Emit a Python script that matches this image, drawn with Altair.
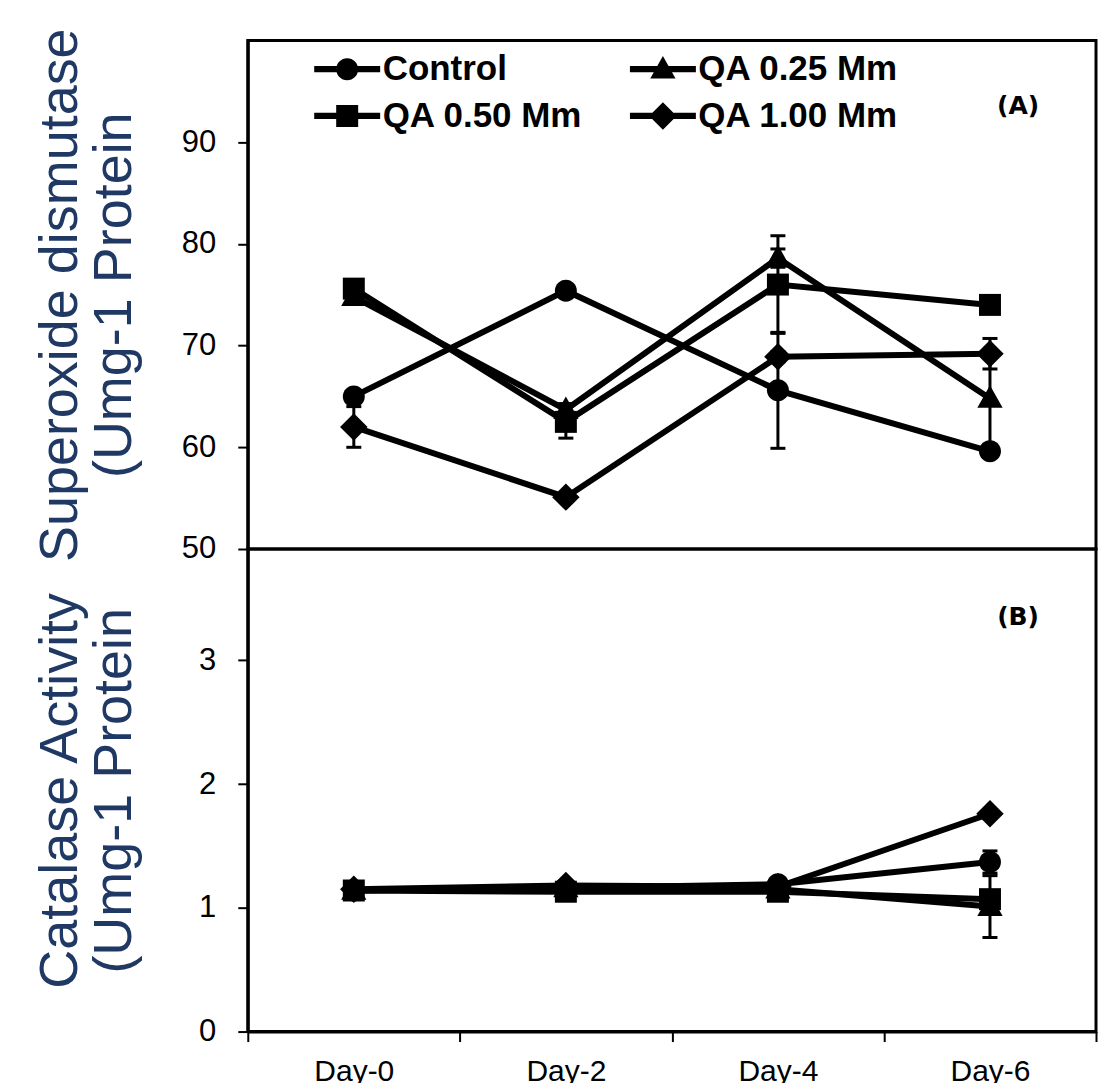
import altair as alt
import pandas as pd

days = ["Day-0", "Day-2", "Day-4", "Day-6"]
series = ["Control", "QA 0.25 Mm", "QA 0.50 Mm", "QA 1.00 Mm"]

# Panel A: Superoxide dismutase
sod_control = [65.0, 75.4, 65.6, 59.6]
sod_qa025 = [74.8, 63.7, 78.6, 64.8]
sod_qa050 = [75.6, 62.5, 76.0, 74.0]
sod_qa100 = [62.0, 55.1, 68.9, 69.2]
sod_err_control = [0.4, 0.4, 5.7, 0.4]
sod_err_qa025 = [0.4, 0.6, 0.9, 4.5]
sod_err_qa050 = [0.4, 1.6, 4.8, 0.4]
sod_err_qa100 = [2.0, 0.4, 0.5, 1.5]

# Panel B: Catalase activity
cat_control = [1.14, 1.16, 1.19, 1.37]
cat_qa025 = [1.14, 1.16, 1.15, 1.01]
cat_qa050 = [1.14, 1.13, 1.13, 1.07]
cat_qa100 = [1.15, 1.18, 1.17, 1.76]
cat_err_control = [0.02, 0.02, 0.03, 0.09]
cat_err_qa025 = [0.02, 0.02, 0.02, 0.25]
cat_err_qa050 = [0.02, 0.02, 0.02, 0.05]
cat_err_qa100 = [0.02, 0.02, 0.02, 0.02]


def build(vals, errs):
    rows = []
    for s, v, e in zip(series, vals, errs):
        for d, vv, ee in zip(days, v, e):
            rows.append({"day": d, "series": s, "value": vv, "lo": vv - ee, "hi": vv + ee})
    return pd.DataFrame(rows)


sod_df = build([sod_control, sod_qa025, sod_qa050, sod_qa100],
               [sod_err_control, sod_err_qa025, sod_err_qa050, sod_err_qa100])
cat_df = build([cat_control, cat_qa025, cat_qa050, cat_qa100],
               [cat_err_control, cat_err_qa025, cat_err_qa050, cat_err_qa100])

CIRCLE = "M1,0A1,1 0 1,1 -1,0A1,1 0 1,1 1,0Z"
TRI = "M0,-1.2L1.15,0.85L-1.15,0.85Z"
SQUARE = "M-1,-1H1V1H-1Z"
DIAMOND = "M0,-1.25L1.25,0L0,1.25L-1.25,0Z"
LINE = "M-3,-0.28H3V0.28H-3Z"
marker_paths = [CIRCLE, TRI, SQUARE, DIAMOND]
legend_paths = [LINE + p for p in marker_paths]

FONT = "Liberation Sans"
NAVY = "#1f3864"
W = 849


def panel(df, ydomain, yvalues, ytitle, label, show_x, show_legend, h, label_y):
    if show_x:
        xaxis = alt.Axis(title=None, tickBand="extent", labelAngle=0, labelFontSize=30,
                         labelFont=FONT, labelColor="black", tickSize=10, tickWidth=2,
                         tickColor="black", domainColor="black", domainWidth=3,
                         labelPadding=15, grid=False)
    else:
        xaxis = None
    x = alt.X("day:N", sort=days,
              scale=alt.Scale(type="band", domain=days, paddingInner=0, paddingOuter=0),
              axis=xaxis)
    yscale = alt.Scale(domain=ydomain, nice=False, zero=False)
    yaxis = alt.Axis(values=yvalues, title=ytitle, grid=False, format="d", labelFontSize=31,
                     labelFont=FONT, labelColor="black", tickSize=10, tickWidth=2,
                     tickColor="black", domainColor="black", domainWidth=3,
                     labelPadding=22, titleFont=FONT, titleFontSize=54,
                     titleFontWeight="normal", titleColor=NAVY, titleLineHeight=54,
                     titleX=-160, titleY=h / 2, titleBaseline="bottom", titleAngle=270)
    base = alt.Chart(df)
    rule = base.mark_rule(color="black", strokeWidth=3).encode(
        x=x, y=alt.Y("lo:Q", scale=yscale, axis=yaxis), y2="hi:Q")
    cap_lo = base.mark_tick(color="black", thickness=3, size=15, opacity=1).encode(
        x=x, y=alt.Y("lo:Q", scale=yscale))
    cap_hi = base.mark_tick(color="black", thickness=3, size=15, opacity=1).encode(
        x=x, y=alt.Y("hi:Q", scale=yscale))
    line = base.mark_line(color="black", strokeWidth=6).encode(
        x=x, y=alt.Y("value:Q", scale=yscale), detail="series:N")
    pts = base.mark_point(filled=True, color="black", opacity=1, size=484, strokeWidth=0).encode(
        x=x, y=alt.Y("value:Q", scale=yscale),
        shape=alt.Shape("series:N", scale=alt.Scale(domain=series, range=marker_paths), legend=None))
    layers = [rule, cap_lo, cap_hi, line, pts]
    if show_legend:
        leg = base.transform_filter("datum.value < -9999").mark_point(
            filled=True, color="black", opacity=1, size=484, strokeWidth=0).encode(
            shape=alt.Shape("series:N", scale=alt.Scale(domain=series, range=legend_paths),
                            legend=alt.Legend(orient="none", legendX=82, legendY=11, columns=2,
                                              direction="horizontal",
                                              columnPadding=46, rowPadding=11, padding=0,
                                              title=None, labelFont=FONT, labelFontSize=35,
                                              labelFontWeight="bold", labelColor="black",
                                              labelOffset=18, labelLimit=400, symbolSize=484,
                                              symbolStrokeWidth=0, symbolFillColor="black",
                                              symbolOpacity=1)))
        layers.append(leg)
    txt = alt.Chart(pd.DataFrame({"t": [label]})).mark_text(
        font="DejaVu Sans", fontWeight="bold", fontSize=25, color="black").encode(
        text="t:N", x=alt.value(771), y=alt.value(label_y))
    layers.append(txt)
    return alt.layer(*layers).resolve_scale(shape="independent").properties(width=W, height=h)


pA = panel(sod_df, [50, 100], [50, 60, 70, 80, 90],
           ["Superoxide dismutase", "(Umg-1 Protein"], "(A)", False, True, 509, 66)
pB = panel(cat_df, [0, 3.9], [0, 1, 2, 3],
           ["Catalase Activity", "(Umg-1 Protein"], "(B)", True, False, 483, 68)

chart = alt.vconcat(pA, pB, spacing=0, bounds="flush").properties(
    padding={"left": 24, "top": 17, "right": 0, "bottom": 0}
).configure_view(stroke="black", strokeWidth=3)

chart.save("out.html", embed_options={"renderer": "svg", "actions": False})
